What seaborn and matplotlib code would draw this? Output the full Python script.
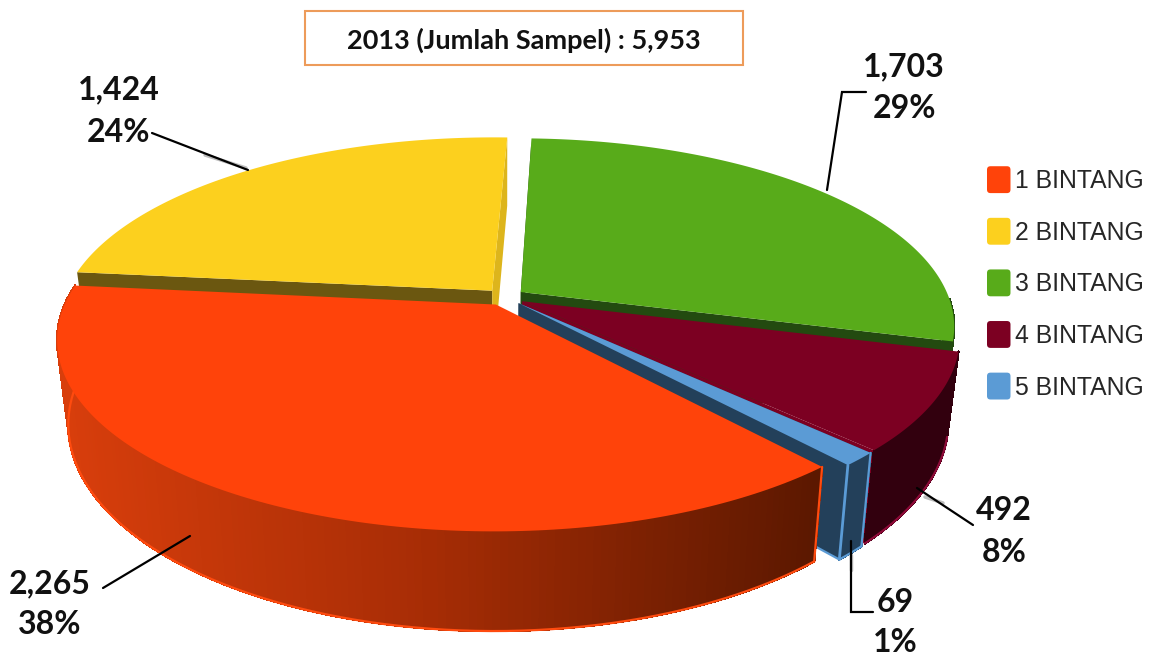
import numpy as np
import matplotlib
matplotlib.use("Agg")
import matplotlib.pyplot as plt
import seaborn as sns
from matplotlib.collections import PolyCollection
from matplotlib.legend_handler import HandlerPatch
from matplotlib.patches import FancyBboxPatch, Patch, Rectangle

categories = ["1 BINTANG", "2 BINTANG", "3 BINTANG", "4 BINTANG", "5 BINTANG"]
counts = [2265, 1424, 1703, 492, 69]
percent_labels = ["38%", "24%", "29%", "8%", "1%"]
count_labels = ["2,265", "1,424", "1,703", "492", "69"]
title = "2013 (Jumlah Sampel) : 5,953"

sns.set_theme(style="white")
top_colors = sns.color_palette(["#FF430A", "#FCD01E", "#58AB1A", "#7C0022", "#5B9BD5"])
wall_colors = ["#A02B05", "#6B5710", "#234A10", "#32000E", "#23405A"]
face_colors = ["#5E1A00", "#6B5710", "#234A10", "#7C0022", "#23405A"]
edge_colors = ["#FF4B0F", None, None, "#8E0A38", "#5B9BD5"]
red_wall = sns.blend_palette(["#D83E0C", "#A52C05", "#5C1800"], 256)

W, H = 1149, 656
CX, CY, FX, GY, K, DEPTH, SHRINK, EXPLODE, START = 505, 297, 428, 183, 0.18, 81, 0.975, 0.046, 139


def project(x, y):
    d = 1 + K * y
    return CX + FX * x / d, CY - GY * y / d


def drop(sx, sy, y):
    return CX + (sx - CX) * SHRINK, sy + DEPTH / (1 + K * y)


fig = plt.figure(figsize=(W / 100, H / 100), dpi=100)
ax = fig.add_axes([0, 0, 1, 1])
ax.set_xlim(0, W)
ax.set_ylim(H, 0)
ax.axis("off")

total = sum(counts)
fractions = np.array(counts) / total
ends = START + 360 * np.cumsum(fractions)
starts = ends - 360 * fractions

for i in [1, 2, 3, 4, 0]:
    a0, a1 = np.radians(starts[i]), np.radians(ends[i])
    mid = (a0 + a1) / 2
    ox, oy = EXPLODE * np.sin(mid), EXPLODE * np.cos(mid)
    t = np.linspace(a0, a1, 160)
    mx, my = ox + np.sin(t), oy + np.cos(t)
    sx, sy = project(mx, my)
    ax_, ay_ = project(ox, oy)
    bx, by = drop(sx, sy, my)
    abx, aby = drop(ax_, ay_, oy)

    # flat cut face of the maroon slice is hidden by the blue one, so it goes under its wall
    if i == 3:
        ax.fill([ax_, sx[-1], bx[-1], abx], [ay_, sy[-1], by[-1], aby], color=face_colors[i], lw=0, zorder=1)

    # outer wall as shaded strips; only the part facing the viewer
    limit = 0.3 if i == 0 else 0.0
    quads = [[(sx[n], sy[n]), (sx[n + 1], sy[n + 1]), (bx[n + 1], by[n + 1]), (bx[n], by[n])]
             for n in range(len(t) - 1) if my[n] < limit]
    if quads:
        if i == 0:
            cols = [red_wall[int(np.clip((q[0][0] - 60) / 755, 0, 1) * 255)] for q in quads]
        else:
            cols = [wall_colors[i]] * len(quads)
        ax.add_collection(PolyCollection(quads, facecolors=cols, edgecolors=cols, linewidths=1.0,
                                         antialiaseds=False, zorder=1))

    # flat cut faces towards the neighbouring slices
    if i not in (0, 3):
        for j, col in ((0, face_colors[i]), (-1, "#DDB51C" if i == 1 else face_colors[i])):
            ax.fill([ax_, sx[j], bx[j], abx], [ay_, sy[j], by[j], aby], color=col, lw=0, zorder=1)

    if edge_colors[i]:
        visible = my < limit
        ax.plot(bx[visible], by[visible], color=edge_colors[i], lw=1.6, zorder=1)
        if i == 4:
            ax.plot([sx[0], bx[0]], [sy[0], by[0]], color=edge_colors[i], lw=1.6, zorder=1)
            ax.plot([sx[-1], bx[-1]], [sy[-1], by[-1]], color=edge_colors[i], lw=2, zorder=1)
            ax.plot([abx + (bx[-1] - abx) * 0.93, bx[-1]], [aby + (by[-1] - aby) * 0.93, by[-1]],
                    color=edge_colors[i], lw=1.6, zorder=1)
        if i == 0:
            ax.plot([sx[0], bx[0]], [sy[0], by[0]], color=edge_colors[i], lw=1.6, zorder=1)

    ax.fill(np.r_[ax_, sx], np.r_[ay_, sy], color=top_colors[i], lw=0, zorder=1)

# faint grey shadows beside the leader lines
for gx, gy in (([205, 246], [155, 168]), ([925, 943], [497, 503]), ([851, 851], [555, 570])):
    ax.plot(gx, gy, color="#BDBDBD", lw=2.5, zorder=2)

# leader lines
leaders = [
    ([103, 190], [588, 536]),
    ([152, 248], [133, 170]),
    ([827, 842, 866], [190, 92, 92]),
    ([917, 973], [488, 525]),
    ([851, 851, 873], [541, 612, 612]),
]
for lx, ly in leaders:
    ax.plot(lx, ly, color="black", lw=1.6, zorder=3, solid_joinstyle="miter")

# data labels
label_xy = [(50, 584, 625), (119, 90, 132), (904, 67, 109), (1004, 511, 553), (895, 603, 642)]
for (x, y1, y2), c, p in zip(label_xy, count_labels, percent_labels):
    ax.text(x, y1, c, ha="center", va="center", family="Lato", weight="bold", fontsize=23, color="#111111", zorder=4)
    ax.text(x, y2, p, ha="center", va="center", family="Lato", weight="bold", fontsize=23, color="#111111", zorder=4)

# title box
ax.add_patch(Rectangle((305, 11), 438, 54, fc="white", ec="#ED9B5A", lw=1.5, zorder=4))
ax.text(524, 40, title, ha="center", va="center", family="Lato", weight="bold", fontsize=19.5, color="#111111", zorder=5)


class RoundHandle(HandlerPatch):
    def create_artists(self, legend, orig, xd, yd, width, height, fontsize, trans):
        p = FancyBboxPatch((-xd + 1.5, -yd - 2 + 1.5), width - 3, height + 4 - 3,
                           boxstyle="round,pad=1.5,rounding_size=2.5",
                           fc=orig.get_facecolor(), ec="none", transform=trans)
        return [p]


handles = [Patch(facecolor=c, label=n) for c, n in zip(top_colors, categories)]
ax.legend(handles=handles, loc="upper left", bbox_to_anchor=(987 / W, 1 - 169 / H),
          bbox_transform=ax.transAxes, frameon=False, borderpad=0, borderaxespad=0,
          prop={"family": "Liberation Sans", "size": 17.8}, labelcolor="#262626",
          labelspacing=1.11, handlelength=0.95, handleheight=0.95, handletextpad=0.2,
          handler_map={Patch: RoundHandle()})

fig.savefig("out.png", dpi=100, facecolor="white")
